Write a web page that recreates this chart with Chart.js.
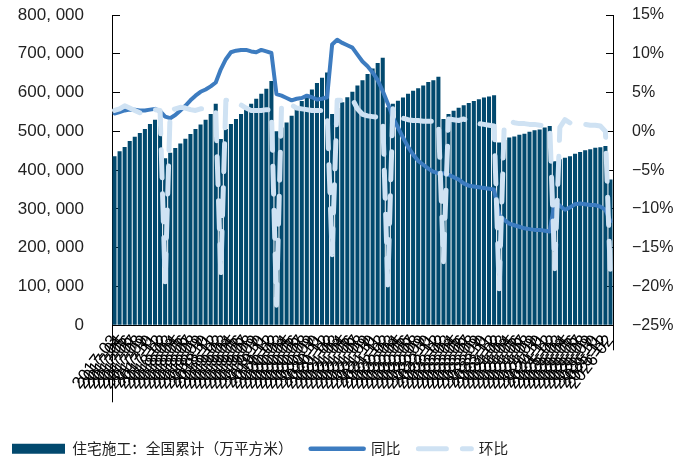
<!DOCTYPE html>
<html>
<head>
<meta charset="utf-8">
<script src="https://cdn.jsdelivr.net/npm/chart.js@4.4.1/dist/chart.umd.min.js"></script>
<style>
  html, body { margin: 0; padding: 0; background: #fff; }
  #wrap { width: 688px; height: 462px; }
</style>
</head>
<body>
<div id="wrap"><canvas id="chart"></canvas></div>
<script>
// months (Jan merged into Feb)
const months = [
  '2017-03','2017-04','2017-05','2017-06','2017-07','2017-08','2017-09','2017-10','2017-11','2017-12',
  '2018-02','2018-03','2018-04','2018-05','2018-06','2018-07','2018-08','2018-09','2018-10','2018-11','2018-12',
  '2019-02','2019-03','2019-04','2019-05','2019-06','2019-07','2019-08','2019-09','2019-10','2019-11','2019-12',
  '2020-02','2020-03','2020-04','2020-05','2020-06','2020-07','2020-08','2020-09','2020-10','2020-11','2020-12',
  '2021-02','2021-03','2021-04','2021-05','2021-06','2021-07','2021-08','2021-09','2021-10','2021-11','2021-12',
  '2022-02','2022-03','2022-04','2022-05','2022-06','2022-07','2022-08','2022-09','2022-10','2022-11','2022-12',
  '2023-02','2023-03','2023-04','2023-05','2023-06','2023-07','2023-08','2023-09','2023-10','2023-11','2023-12',
  '2024-02','2024-03','2024-04','2024-05','2024-06','2024-07','2024-08','2024-09','2024-10','2024-11','2024-12',
  '2025-02','2025-03','2025-04','2025-05','2025-06','2025-07','2025-08','2025-09','2025-10','2025-11','2025-12',
  '2026-02'
];

// 住宅施工：全国累计（万平方米）
const area = [
  436000, 449000, 460000, 475000, 486000, 496000, 506000, 519000, 530000, 540000,
  431000, 445000, 457000, 469000, 481000, 493000, 506000, 518000, 530000, 545000, 571000,
  480000, 506000, 519000, 532000, 545000, 558000, 571000, 584000, 597000, 610000, 630000,
  500000, 510000, 523000, 540000, 560000, 578000, 592000, 608000, 625000, 638000, 652000,
  545000, 560000, 575000, 588000, 602000, 618000, 632000, 648000, 662000, 676000, 690000,
  562000, 571000, 579000, 587000, 597000, 605000, 611000, 618000, 627000, 632000, 641000,
  532000, 545000, 553000, 561000, 567000, 573000, 578000, 583000, 587000, 590000, 593000,
  471000, 478000, 484000, 487000, 491000, 494000, 499000, 503000, 505000, 510000, 514000,
  423000, 428000, 432000, 436000, 442000, 447000, 451000, 454000, 458000, 459000, 462000,
  376000
];

// 同比 (%)
const yoy = [
  2.3, 2.5, 2.7, 2.8, 2.8, 2.7, 2.7, 2.8, 2.9, 2.6,
  1.9, 1.7, 2.1, 2.7, 3.3, 4.0, 4.6, 5.1, 5.4, 5.8, 6.3,
  8.0, 9.3, 10.2, 10.4, 10.5, 10.5, 10.3, 10.2, 10.5, 10.3, 10.1,
  4.8, 4.6, 4.3, 4.0, 4.2, 4.3, 4.6, 4.4, 4.1, 4.2, 4.4,
  11.2, 11.8, 11.4, 11.1, 10.8, 9.9, 9.0, 8.4, 7.6, 6.6, 5.2,
  3.6, 1.8, 0.5, -0.8, -2.0, -3.0, -3.8, -4.3, -4.8, -5.2, -5.4,
  -5.4, -5.6, -5.9, -6.2, -6.7, -7.0, -7.1, -7.2, -7.3, -7.4, -7.5,
  -10.8, -11.4, -11.9, -12.1, -12.3, -12.5, -12.6, -12.7, -12.7, -12.8, -12.9,
  -9.0, -9.6, -10.1, -9.8, -9.4, -9.3, -9.4, -9.5, -9.5, -9.7, -10.1,
  -11.6
];

// 环比 (%)
const mom = [
  2.7, 2.9, 3.3, 3.0, 2.7, 2.4, 2.6, 2.7, 2.8, 2.7,
  -19.4, 2.7, 2.9, 3.1, 3.0, 2.8, 2.7, 2.9, 2.9, 2.7, 2.6,
  -18.4, 4.0, 4.0, 3.8, 3.4, 3.0, 2.7, 2.7, 2.7, 2.8, 2.8,
  -22.4, 3.3, 3.7, 3.4, 3.0, 2.9, 2.8, 2.7, 2.7, 2.7, 2.6,
  -15.9, 4.0, 4.0, 4.1, 4.2, 2.9, 2.2, 2.0, 1.9, 1.8, 1.8,
  -19.8, 2.9, 1.6, 1.7, 1.5, 1.4, 1.4, 1.3, 1.3, 1.3, 1.4,
  -16.8, 1.6, 1.5, 1.4, 1.6, 1.3, 1.2, 1.0, 0.9, 0.8, 0.7,
  -20.3, 0.7, 1.4, 1.1, 1.0, 1.0, 0.9, 0.9, 0.8, 0.7, 0.7,
  -17.7, 0.5, 1.5, 1.1, 1.0, 0.9, 0.9, 0.8, 0.8, 0.7, 0.0,
  -19.0
];

const NAVY = '#02496e';
const MID = '#3d7cc0';
const LIGHT = '#cfe2f3';
const ARIAL = 'Liberation Sans, Arial, sans-serif';

// legend marks: a thick line for the bars, plain/dashed lines for the two series
const legendLook = [
  { pointStyle: 'line', lineWidth: 10, strokeStyle: NAVY, lineCap: 'butt', lineDash: [] },
  { pointStyle: 'line', lineWidth: 4.5, strokeStyle: MID, lineCap: 'round', lineDash: [] },
  { pointStyle: 'line', lineWidth: 5, strokeStyle: LIGHT, lineCap: 'round', lineDash: [28, 16] }
];

// the long first tick under the category axis
const edgeTicks = {
  id: 'edgeTicks',
  afterDraw(chart) {
    const { ctx, chartArea } = chart;
    ctx.save();
    ctx.strokeStyle = '#000';
    ctx.lineWidth = 1;
    ctx.beginPath();
    ctx.moveTo(Math.round(chartArea.left) + 0.5, chartArea.bottom);
    ctx.lineTo(Math.round(chartArea.left) + 0.5, chartArea.bottom + 77);
    ctx.moveTo(Math.round(chartArea.right) + 0.5, chartArea.bottom);
    ctx.lineTo(Math.round(chartArea.right) + 0.5, chartArea.bottom + 25);
    ctx.stroke();
    ctx.restore();
  }
};

new Chart(document.getElementById('chart').getContext('2d'), {
  type: 'bar',
  data: {
    labels: months,
    datasets: [
      {
        type: 'bar',
        label: '住宅施工：全国累计（万平方米）',
        data: area,
        backgroundColor: NAVY,
        yAxisID: 'y',
        categoryPercentage: 1,
        barPercentage: 0.8,
        order: 2
      },
      {
        type: 'line',
        label: '同比',
        data: yoy,
        borderColor: MID,
        backgroundColor: MID,
        borderWidth: 4,
        borderJoinStyle: 'round',
        borderCapStyle: 'round',
        pointRadius: 0,
        yAxisID: 'y1',
        order: 1
      },
      {
        type: 'line',
        label: '环比',
        data: mom,
        borderColor: LIGHT,
        backgroundColor: LIGHT,
        borderWidth: 5,
        borderDash: [28, 16],
        borderJoinStyle: 'round',
        borderCapStyle: 'round',
        pointRadius: 0,
        yAxisID: 'y1',
        order: 0
      }
    ]
  },
  options: {
    responsive: true,
    maintainAspectRatio: false,
    animation: false,
    layout: { padding: { left: -6, right: 0, top: 15, bottom: -4 } },
    plugins: {
      tooltip: { enabled: false },
      legend: {
        position: 'bottom',
        align: 'start',
        labels: {
          usePointStyle: true,
          pointStyleWidth: 53,
          boxHeight: 10,
          padding: 18,
          color: '#222',
          font: { family: 'Noto Sans CJK SC', size: 14.7 },
          sort: (a, b) => a.datasetIndex - b.datasetIndex,
          generateLabels: chart => {
            const items = Chart.defaults.plugins.legend.labels.generateLabels(chart);
            return items.map(it => Object.assign(it, legendLook[it.datasetIndex]));
          }
        }
      }
    },
    scales: {
      x: {
        offset: true,
        grid: { display: false, drawTicks: false },
        border: { color: '#000', width: 1 },
        ticks: {
          autoSkip: false,
          minRotation: 52,
          maxRotation: 52,
          padding: 6,
          color: '#000',
          font: { family: ARIAL, size: 17 }
        },
        afterFit: s => { s.height = 98; }
      },
      y: {
        position: 'left',
        min: 0,
        max: 800000,
        grid: { drawOnChartArea: false, tickLength: -8, color: '#000' },
        border: { color: '#000', width: 1 },
        ticks: {
          stepSize: 100000,
          padding: 36,
          color: '#222',
          font: { family: ARIAL, size: 17 },
          callback: v => v.toLocaleString('en-US').replace(/,/g, ', ')
        },
        afterFit: s => { s.width = 118; s.paddingTop = 9; s.paddingBottom = 9; }
      },
      y1: {
        position: 'right',
        min: -25,
        max: 15,
        grid: { drawOnChartArea: false, tickLength: -7, color: '#000' },
        border: { color: '#000', width: 1 },
        ticks: {
          stepSize: 5,
          padding: 26,
          color: '#222',
          font: { family: ARIAL, size: 16 },
          callback: v => String(v).replace('-', '\u2212') + '%'
        },
        afterFit: s => { s.width = 75; s.paddingTop = 9; s.paddingBottom = 9; }
      }
    }
  },
  plugins: [edgeTicks]
});
</script>
</body>
</html>
